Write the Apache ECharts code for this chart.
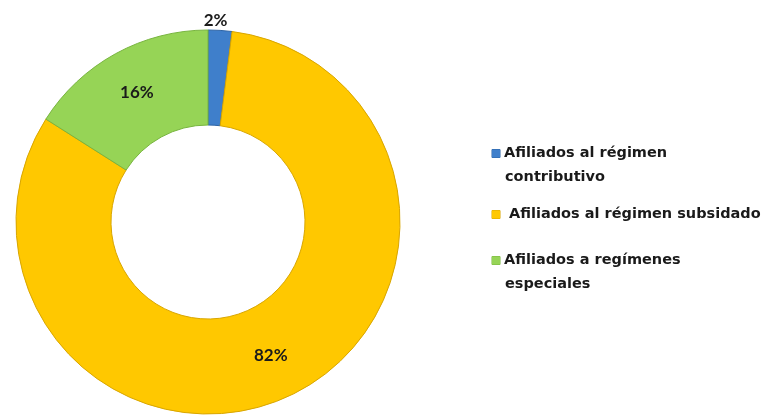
<!DOCTYPE html>
<html><head><meta charset="utf-8">
<script src="https://cdn.jsdelivr.net/npm/echarts@6/dist/echarts.min.js"></script>
<style>html,body{margin:0;padding:0;background:#fff}#c{width:767px;height:416px}</style>
</head><body><div id="c"></div>
<script>
const categories = ['Afiliados al régimen contributivo', 'Afiliados al régimen subsidado', 'Afiliados a regímenes especiales'];
const legendLines = [['Afiliados al régimen', 'contributivo'], [' Afiliados al régimen subsidado'], ['Afiliados a regímenes', 'especiales']];
const values = [2, 82, 16];
const colors = ['#3F7FCB', '#FFC800', '#96D456'];
const borders = ['#2D64A6', '#D9A600', '#78B53F'];
const legendTops = [146, 207, 253];

const chart = echarts.init(document.getElementById('c'), null, { renderer: 'canvas' });
const rich = {
  g: { width: 4 },
  sp: { width: 13 },
  t: { fontFamily: 'DejaVu Sans', fontWeight: 'bold', fontSize: 14.5, color: '#1a1a1a', lineHeight: 24 }
};
colors.forEach((c, i) => {
  rich['ic' + i] = { width: 8, height: 8, backgroundColor: c, borderColor: borders[i], borderWidth: 0.5 };
});

const option = {
  backgroundColor: '#ffffff',
  animation: false,
  legend: categories.map((name, i) => ({
    data: [name],
    orient: 'vertical',
    left: 487,
    top: legendTops[i],
    padding: 0,
    icon: 'none',
    itemWidth: 0,
    itemHeight: 0,
    selectedMode: false,
    formatter: () => legendLines[i].map((ln, j) => (j === 0 ? '{ic' + i + '|}{g|}' : '{sp|}') + '{t|' + ln + '}').join('\n'),
    textStyle: { rich }
  })),
  series: [{
    type: 'pie',
    center: [208, 222],
    radius: [97, 192],
    startAngle: 90,
    clockwise: true,
    avoidLabelOverlap: false,
    silent: true,
    data: categories.map((name, i) => ({
      name,
      value: values[i],
      itemStyle: { color: colors[i], borderColor: borders[i], borderWidth: 1 },
      label: i === 0 ? { position: 'outside', distanceToLabelLine: 0 } : { position: 'inside' },
      labelLine: i === 0 ? { show: false, length: 10, length2: 0 } : { show: false }
    })),
    label: {
      show: true,
      formatter: p => Math.round(p.percent) + '%',
      fontFamily: 'Lato',
      fontWeight: 'bold',
      fontSize: 17,
      color: '#1a1a1a'
    },
    labelLayout: p => (p.dataIndex === 0 ? { dx: -17 } : {})
  }]
};
chart.setOption(option);
</script>
</body></html>
